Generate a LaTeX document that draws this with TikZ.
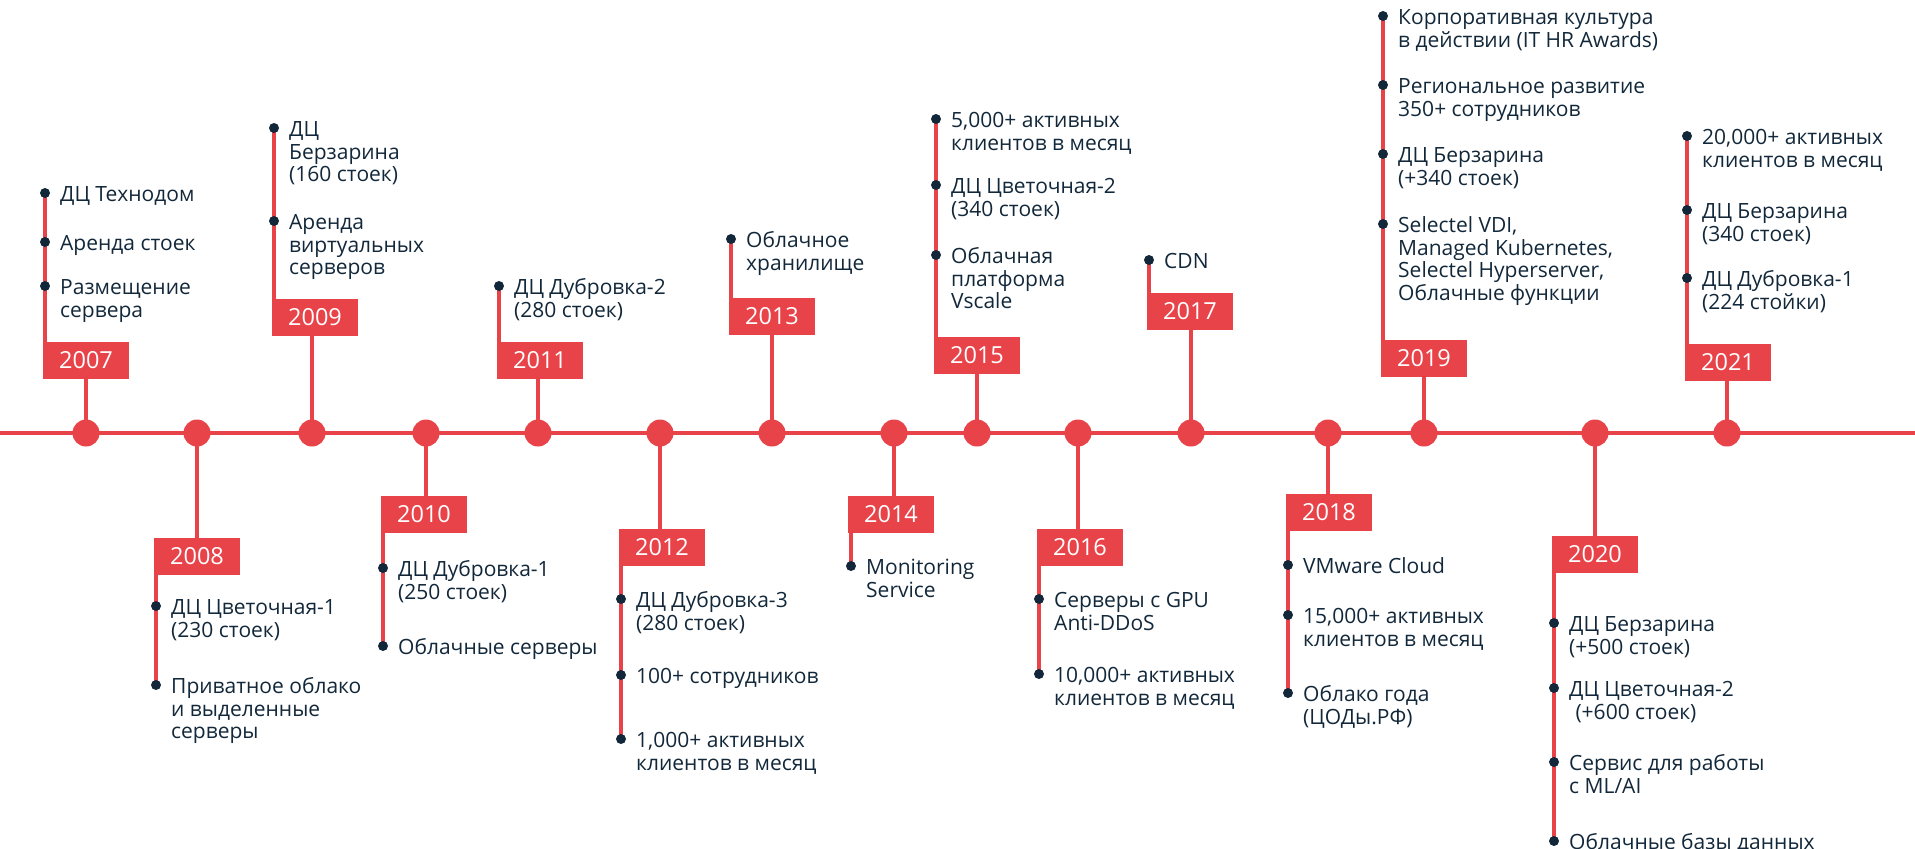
\documentclass[tikz,border=0pt]{standalone}
\usepackage{fontspec}
\setmainfont{Open Sans}
\usetikzlibrary{backgrounds}
\definecolor{brand}{HTML}{E9434A}
\definecolor{ink}{HTML}{12283A}
\newcommand\ml[1]{\begin{tabular}[t]{@{}l@{}}#1\end{tabular}}
\newcommand\itemfont{\fontsize{21}{22.5}\selectfont}
\newcommand\yearfont{\fontsize{23.5}{23.5}\selectfont}
\newcommand\evt[4]{%
  \node[dot] (b#1) at (#2,#3) {};
  \node[item] (t#1) at ([xshift=15pt,yshift=-8.5pt]b#1.center) {\ml{#4}};}
\begin{document}
\begin{tikzpicture}[x=1pt,y=-1pt,
  axisline/.style={draw=brand,line width=4pt},
  stem/.style={draw=brand,line width=4.5pt},
  rail/.style={draw=brand,line width=3.5pt},
  hub/.style={circle,fill=brand,minimum size=27pt,inner sep=0pt},
  yearbox/.style={fill=brand,minimum width=86pt,minimum height=37pt,inner sep=0pt,text=white,font=\yearfont},
  dot/.style={circle,fill=ink,minimum size=10pt,inner sep=0pt},
  item/.style={anchor=base west,inner sep=0pt,text=ink,font=\itemfont}]
\useasboundingbox (0,0) rectangle (1915,849);
\coordinate (axL) at (0,433);
\coordinate (axR) at (1915,433);

% hubs and year boxes
\foreach \n/\cx/\bx/\by in {07/86/86/360.5, 08/197/197/556.5, 09/312/315/317.5,
  10/426/424/514.5, 11/538/540/360.5, 12/660/662/547.5, 13/772/772/316.5,
  14/894/891/514.5, 15/977/977/355.5, 16/1078/1080/547.5, 17/1191/1190/311.5,
  18/1328/1329/512.5, 19/1424/1424/358.5, 20/1595/1595/554.5, 21/1727/1728/362.5}{
  \node[hub] (c\n) at (\cx,433) {};
  \node[yearbox] (y\n) at (\bx,\by) {20\n};
}

% 2007
\evt{07a}{45}{193}{ДЦ Технодом}
\evt{07b}{45}{242}{Аренда стоек}
\evt{07c}{45}{286}{Размещение\\сервера}
% 2008
\evt{08a}{156}{606}{ДЦ Цветочная-1\\(230 стоек)}
\evt{08b}{156}{685}{Приватное облако\\и выделенные\\серверы}
% 2009
\evt{09a}{274}{128}{ДЦ\\Берзарина\\(160 стоек)}
\evt{09b}{274}{221}{Аренда\\виртуальных\\серверов}
% 2010
\evt{10a}{383}{568}{ДЦ Дубровка-1\\(250 стоек)}
\evt{10b}{383}{646}{Облачные серверы}
% 2011
\evt{11a}{499}{286}{ДЦ Дубровка-2\\(280 стоек)}
% 2012
\evt{12a}{621}{599}{ДЦ Дубровка-3\\(280 стоек)}
\evt{12b}{621}{675}{100+ сотрудников}
\evt{12c}{621}{739}{1,000+ активных\\клиентов в месяц}
% 2013
\evt{13a}{731}{239}{Облачное\\хранилище}
% 2014
\evt{14a}{851}{566}{Monitoring\\Service}
% 2015
\evt{15a}{936}{119}{5,000+ активных\\клиентов в месяц}
\evt{15b}{936}{185}{ДЦ Цветочная-2\\(340 стоек)}
\evt{15c}{936}{255}{Облачная\\платформа\\Vscale}
% 2016
\evt{16a}{1039}{599}{Серверы с GPU\\Anti-DDoS}
\evt{16b}{1039}{674}{10,000+ активных\\клиентов в месяц}
% 2017
\evt{17a}{1149}{260}{CDN}
% 2018
\evt{18a}{1288}{565}{VMware Cloud}
\evt{18b}{1288}{615}{15,000+ активных\\клиентов в месяц}
\evt{18c}{1288}{693}{Облако года\\(ЦОДы.РФ)}
% 2019
\evt{19a}{1383}{16}{Корпоративная культура\\в действии (IT HR Awards)}
\evt{19b}{1383}{85}{Региональное развитие\\350+ сотрудников}
\evt{19c}{1383}{154}{ДЦ Берзарина\\(+340 стоек)}
\evt{19d}{1383}{224}{Selectel VDI,\\Managed Kubernetes,\\Selectel Hyperserver,\\Облачные функции}
% 2020
\evt{20a}{1554}{623}{ДЦ Берзарина\\(+500 стоек)}
\evt{20b}{1554}{688}{ДЦ Цветочная-2\\\hspace*{0.3em}(+600 стоек)}
\evt{20c}{1554}{762}{Сервис для работы\\с ML/AI}
\evt{20d}{1554}{841}{Облачные базы данных}
% 2021
\evt{21a}{1687}{136}{20,000+ активных\\клиентов в месяц}
\evt{21b}{1687}{210}{ДЦ Берзарина\\(340 стоек)}
\evt{21c}{1687}{278}{ДЦ Дубровка-1\\(224 стойки)}

\begin{scope}[on background layer]
  \draw[axisline] (axL) -- (axR);
  \foreach \n in {07,08,09,10,11,12,13,14,15,16,17,18,19,20,21}{
    \draw[stem] (c\n.center) -- (c\n.center |- y\n.center);
  }
  % rails from year box to the farthest item
  \draw[rail] (b07a.center) -- (b07a.center |- y07.center);
  \draw[rail] (b08b.center) -- (b08b.center |- y08.center);
  \draw[rail] (b09a.center) -- (b09a.center |- y09.center);
  \draw[rail] (b10b.center) -- (b10b.center |- y10.center);
  \draw[rail] (b11a.center) -- (b11a.center |- y11.center);
  \draw[rail] (b12c.center) -- (b12c.center |- y12.center);
  \draw[rail] (b13a.center) -- (b13a.center |- y13.center);
  \draw[rail] (b14a.center) -- (b14a.center |- y14.center);
  \draw[rail] (b15a.center) -- (b15a.center |- y15.center);
  \draw[rail] (b16b.center) -- (b16b.center |- y16.center);
  \draw[rail] (b17a.center) -- (b17a.center |- y17.center);
  \draw[rail] (b18c.center) -- (b18c.center |- y18.center);
  \draw[rail] (b19a.center) -- (b19a.center |- y19.center);
  \draw[rail] (b20d.center) -- (b20d.center |- y20.center);
  \draw[rail] (b21a.center) -- (b21a.center |- y21.center);
\end{scope}
\end{tikzpicture}
\end{document}
